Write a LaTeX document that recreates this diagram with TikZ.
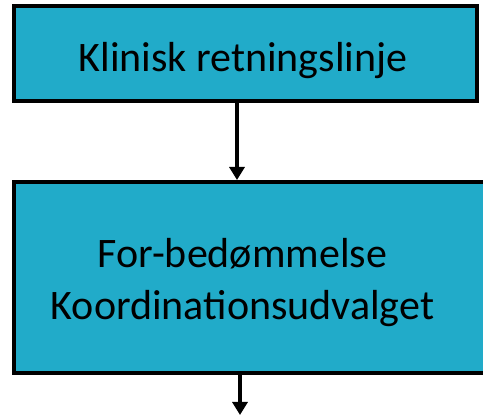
\documentclass[tikz,border=0pt]{standalone}
\usepackage{fontspec}
\setmainfont{Carlito}
\usetikzlibrary{arrows.meta}
\definecolor{boxfill}{RGB}{33,171,201}
\begin{document}
\begin{tikzpicture}[x=1pt,y=-1pt,
  flowbox/.style={draw=black, line width=4pt, fill=boxfill, inner sep=0pt},
  boxtext/.style={font=\fontsize{42pt}{52pt}\selectfont, inner sep=0pt, anchor=base},
  flowarrow/.style={line width=4pt, -{Triangle[width=15pt,length=13pt]}}]
  \useasboundingbox (0,0) rectangle (483,417);
  % boxes
  \node[flowbox, minimum width=463pt, minimum height=95pt] (guide) at (245.5,53.5) {};
  \node[flowbox, minimum width=486pt, minimum height=191pt] (review) at (257,277.5) {};
  % labels
  \node[boxtext] (guidetext) at (243,72) {Klinisk retningslinje};
  \node[boxtext] (reviewtext1) at (242.5,268) {For-bedømmelse};
  \node[boxtext] (reviewtext2) at (242.5,320) {Koordinationsudvalget};
  % connectors
  \coordinate (a1) at (237,0);
  \coordinate (a2) at (240,0);
  \coordinate (next) at (240,415);
  \draw[flowarrow] (guide.south -| a1) -- (review.north -| a1);
  \draw[flowarrow] (review.south -| a2) -- (next);
\end{tikzpicture}
\end{document}
